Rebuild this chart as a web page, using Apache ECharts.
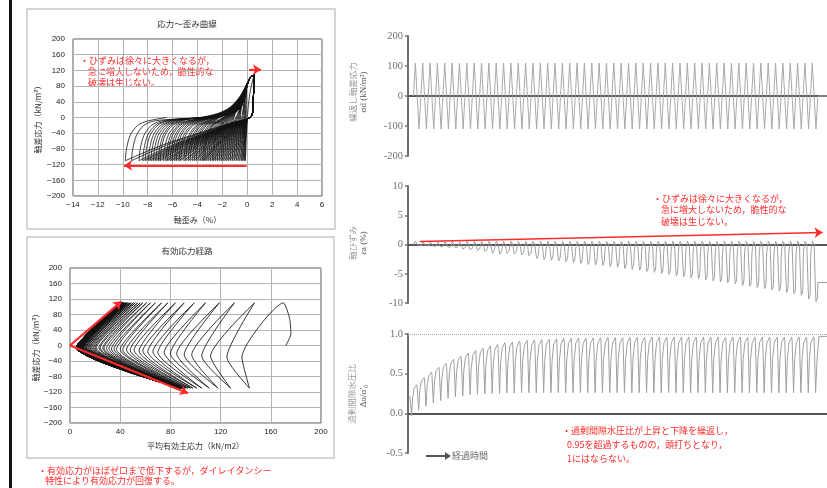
<!DOCTYPE html>
<html><head><meta charset="utf-8">
<script src="https://cdn.jsdelivr.net/npm/echarts@6/dist/echarts.min.js"></script>
<style>html,body{margin:0;padding:0;background:#fff;}#c{width:827px;height:488px;}</style>
</head><body><div id="c"></div>
<script>
// ===== data =====
// per-cycle minimum axial strain (%) in extension (軸ひずみ time history)
const strainMin = [-0.15,-0.25,-0.35,-0.45,-0.6,-0.75,-0.9,-1.05,-1.2,-1.35,
 -1.5,-1.65,-1.8,-1.95,-2.1,-2.25,-2.4,-2.55,-2.7,-2.8,
 -2.95,-3.1,-3.25,-3.4,-3.5,-3.6,-3.75,-3.9,-4.1,-4.25,
 -4.4,-4.6,-4.75,-4.95,-5.1,-5.35,-5.5,-5.7,-5.85,-6.05,
 -6.2,-6.4,-6.55,-6.75,-7.0,-7.15,-7.35,-7.55,-7.75,-7.95,
 -8.2,-8.4,-8.7,-9.3,-9.8];
const stressPeak = 110, stressTrough = -110;          // kN/m²
const initialStrain = [0, 0.2, 0.55], initialStress = [0, 60, 110];
// loop branches read from 応力～歪み曲線
const unloadTopStrain = [0.55, 0.5, 0.45, 0.3], unloadTopStress = [110, 60, 15, 2];
const unloadFanRatio = [0, 0.15, 0.4, 0.65, 0.85, 1], unloadFanStress = [-4, -15, -40, -65, -90, -110];
const reloadSteepOffset = [0, 0.1, 0.4, 1.0, 1.8], reloadSteepStress = [-110, -80, -45, -20, -9];
const envelopeStrain = [-8.5, -6, -4, -2.5, -1.5, -0.7, -0.2, 0.2, 0.55];
const envelopeStress = [-6, -4, 0, 10, 25, 50, 75, 100, 110];
const finalStrain = -6.5;
// 過剰間隙水圧比 per cycle
const poreStart = 0.22, poreFirstTrough = -0.03, poreFinal = 0.97, poreNotch = 0.03;
const porePeak = [0.36,0.45,0.52,0.58,0.63,0.68,0.72,0.76,0.79,0.82,
 0.85,0.87,0.89,0.9,0.91,0.92,0.925,0.93,0.935,0.94,
 0.945,0.945,0.95,0.95,0.95,0.955,0.955,0.955,0.955,0.955,
 0.96,0.96,0.96,0.96,0.96,0.96,0.96,0.96,0.96,0.96,
 0.96,0.96,0.96,0.96,0.96,0.96,0.96,0.96,0.96,0.96,
 0.96,0.96,0.96,0.96,0.965];
const poreTrough = [0.04,0.09,0.13,0.16,0.19,0.21,0.22,0.235,0.24,0.245,
 0.25,0.25,0.255,0.255,0.26,0.26,0.26,0.26,0.26,0.26,
 0.26,0.26,0.26,0.26,0.26,0.26,0.26,0.26,0.26,0.26,
 0.26,0.26,0.26,0.26,0.26,0.26,0.26,0.26,0.26,0.26,
 0.26,0.26,0.26,0.26,0.26,0.26,0.26,0.26,0.26,0.26,
 0.26,0.26,0.26,0.26,0.26];
const poreRisePhase = [0.2, 0.5], poreRiseFrac = [0.6, 0.9];
// 有効応力経路
const pathStartP = [172, 176, 175], pathStartQ = [0, 30, 70];
const pathTop = [170,147,131,119,108,99,91,84,78,73,
 68,64,61,58,56,54,52,50.5,49,48,
 47,46,45.5,45,44.5,44,43.5,43,43,42.5,
 42.5,42,42,42,41.5,41.5,41.5,41,41,41,
 41,41,40.5,40.5,40.5,40.5,40.5,40.5,40,40,
 40,40,40,40,40];
const pathBot = [143,128,118,111,105,101,98,96,94,92.5,
 91.5,90.5,90,89.5,89,88.5,88.5,88,88,88,
 88,88,88,88,88,88,88,88,88,88,
 88,88,88,88,88,88,88,88,88,88,
 88,88,88,88,88,88,88,88,88,88,
 88,88,88,88,88];
const vertexDown = [137,112,97,85,75,66,58,51,45,40,
 35,31,27,24,21,19,17,15.5,14,13,
 12,11,10.5,10,9.5,9,8.5,8,8,7.5,
 7.5,7,7,7,6.5,6.5,6.5,6,6,6,
 6,6,5.5,5.5,5.5,5.5,5.5,5.5,5,5,
 5,5,5,5,5];
const vertexUp = [125,105,91,80,70,62,55,48,42,37,
 33,29,26,23,20,18,16,14.5,13,12,
 11,10.5,10,9.5,9,8.5,8,8,7.5,7.5,
 7,7,7,6.5,6.5,6.5,6,6,6,6,
 6,5.5,5.5,5.5,5.5,5.5,5.5,5,5,5,
 5,5,5,5];
const vertexQ = [-30,-27,-24,-21,-18,-16,-14,-12,-11,-10,
 -9,-8,-7,-6,-5.5,-5,-5,-5,-5,-5,
 -5,-5,-5,-5,-5,-5,-5,-5,-5,-5,
 -5,-5,-5,-5,-5,-5,-5,-5,-5,-5,
 -5,-5,-5,-5,-5,-5,-5,-5,-5,-5,
 -5,-5,-5,-5,-5];
const pathEndP = 5;
// tick labels
const ssStrainTicks = [-14, 6, 2], ssStressTicks = [-200, 200, 40];
const pathPTicks = [0, 200, 40];

// ===== build series from the arrays =====
const N = strainMin.length;
const emMax = strainMin[N - 1];
const halfSpan = 2 * (stressPeak - stressTrough); // stress change per cycle
const loopPts = [], strainTime = [], stressTime = [];
function add(t, e, s) { loopPts.push([e, s]); strainTime.push([t, e]); stressTime.push([t, s]); }
for (let j = 0; j < initialStress.length; j++) add(1 - (stressPeak - initialStress[j]) / halfSpan, initialStrain[j], initialStress[j]);
for (let k = 0; k < N; k++) {
  const tp = k + 1, em = strainMin[k];
  for (let j = 1; j < unloadTopStress.length; j++) add(tp + (stressPeak - unloadTopStress[j]) / halfSpan, unloadTopStrain[j], unloadTopStress[j]);
  for (let j = 0; j < unloadFanStress.length; j++) add(tp + (stressPeak - unloadFanStress[j]) / halfSpan, unloadFanRatio[j] * em, unloadFanStress[j]);
  const sc = Math.min(1, -em / 5);
  let lastE = em;
  for (let j = 1; j < reloadSteepStress.length; j++) { lastE = em + reloadSteepOffset[j] * sc; add(tp + 0.5 + (reloadSteepStress[j] - stressTrough) / halfSpan, lastE, reloadSteepStress[j]); }
  if (k === N - 1) { add(tp + 0.5 + (0 - stressTrough) / halfSpan, finalStrain, 0); }
  else {
    const r = 0.25 + 0.75 * (em / emMax);
    for (let j = 0; j < envelopeStrain.length; j++) {
      const e = envelopeStrain[j] < 0 ? envelopeStrain[j] * r : envelopeStrain[j];
      if (e > lastE + 0.4 * sc) add(tp + 0.5 + (envelopeStress[j] - stressTrough) / halfSpan, e, envelopeStress[j]);
    }
  }
}
strainTime.push([57, finalStrain]); stressTime.push([57, 0]);

const poreTime = [[0.25, poreStart], [0.5, poreFirstTrough]];
let prevT = 0.5, prevV = poreFirstTrough;
for (let k = 0; k < N; k++) {
  const tPk = k + 1.2, d = porePeak[k] - prevV;
  for (let j = 0; j < poreRisePhase.length; j++) poreTime.push([prevT + poreRisePhase[j] * (tPk - prevT), prevV + poreRiseFrac[j] * d]);
  poreTime.push([tPk, porePeak[k]], [tPk + 0.05, porePeak[k] - poreNotch], [tPk + 0.1, porePeak[k] - 0.01], [tPk + 0.25, poreTrough[k]]);
  prevT = tPk + 0.25; prevV = poreTrough[k];
}
poreTime.push([prevT + 0.2, prevV + 0.6 * (poreFinal - prevV)], [prevT + 0.45, poreFinal], [57, poreFinal]);

const pathPts = [];
for (let j = 0; j < pathStartP.length; j++) pathPts.push([pathStartP[j], pathStartQ[j]]);
for (let k = 0; k < N; k++) {
  pathPts.push([pathTop[k], stressPeak], [vertexDown[k], vertexQ[k]], [pathBot[k], stressTrough]);
  if (k < vertexUp.length) pathPts.push([vertexUp[k], vertexQ[k]]);
}
pathPts.push([pathEndP, 0]);

// ===== chart =====
const RED = '#ff2a2a';
const JP = '"Noto Sans CJK JP", sans-serif';
const SANS = '"Liberation Sans", Arial, sans-serif';
const SERIF = '"Liberation Serif", "DejaVu Serif", serif';
const minus = v => String(v).replace('-', '\u2212');
function leftX(idx, r, name, gap) {
  return { type: 'value', gridIndex: idx, min: r[0], max: r[1], interval: r[2],
    name, nameLocation: 'middle', nameGap: gap, nameTextStyle: { fontFamily: JP, fontSize: 8, color: '#333' },
    axisLine: { show: false }, axisTick: { show: false },
    axisLabel: { fontFamily: SANS, fontSize: 8, color: '#222', margin: 5, formatter: minus },
    splitLine: { lineStyle: { color: '#b4b4b4', width: 1 } } };
}
function leftY(idx, name, gap) {
  return { type: 'value', gridIndex: idx, min: ssStressTicks[0], max: ssStressTicks[1], interval: ssStressTicks[2],
    name, nameLocation: 'middle', nameGap: gap, nameTextStyle: { fontFamily: JP, fontSize: 8, color: '#333' },
    axisLine: { show: false }, axisTick: { show: false },
    axisLabel: { fontFamily: SANS, fontSize: 8, color: '#222', margin: 8, formatter: minus },
    splitLine: { lineStyle: { color: '#b4b4b4', width: 1 } } };
}
function rightX(idx) {
  return { type: 'value', gridIndex: idx, min: 0, max: 57,
    axisLine: { show: true, onZero: true, lineStyle: { color: '#555', width: 2 } },
    axisTick: { show: false }, axisLabel: { show: false }, splitLine: { show: false } };
}
function rightY(idx, min, max, iv, fmt) {
  return { type: 'value', gridIndex: idx, min, max, interval: iv,
    axisLine: { show: true, lineStyle: { color: '#707070', width: 2 } },
    axisTick: { show: true, length: 3, lineStyle: { color: '#707070', width: 1.5 } },
    axisLabel: { fontFamily: SERIF, fontSize: 10.5, color: '#707070', margin: 5, formatter: fmt },
    splitLine: { show: false } };
}
function arrowLine(pairs, width) {
  return { silent: true, symbol: ['none', 'arrow'], symbolSize: 8, label: { show: false },
    lineStyle: { type: 'solid', color: RED, width }, emphasis: { disabled: true },
    data: pairs.map(p => [{ coord: p[0] }, { coord: p[1] }]) };
}
function txt(x, y, text, fill, size, family, align) {
  return { type: 'text', x, y, silent: true,
    style: { text, fill, fontSize: size, fontFamily: family, align: align || 'left', verticalAlign: 'middle' } };
}
function vtxt(x, y, text, fill, size, family) {
  return { type: 'text', x, y, rotation: Math.PI / 2, silent: true,
    style: { text, fill, fontSize: size, fontFamily: family, align: 'center', verticalAlign: 'middle' } };
}

const chart = echarts.init(document.getElementById('c'), null, { renderer: 'canvas' });
chart.setOption({
  animation: false,
  backgroundColor: '#fff',
  grid: [
    { left: 73, top: 39, width: 249, height: 157, show: true, borderColor: '#555', borderWidth: 1, backgroundColor: 'transparent' },
    { left: 70, top: 268, width: 251, height: 155, show: true, borderColor: '#555', borderWidth: 1, backgroundColor: 'transparent' },
    { left: 408, top: 36, width: 419, height: 120 },
    { left: 408, top: 186, width: 419, height: 117 },
    { left: 408, top: 334, width: 419, height: 119 }
  ],
  xAxis: [
    leftX(0, ssStrainTicks, '軸歪み（%）', 20),
    leftX(1, pathPTicks, '平均有効主応力（kN/m2）', 19),
    rightX(2), rightX(3), rightX(4)
  ],
  yAxis: [
    leftY(0, '軸差応力（kN/m²）', 31),
    leftY(1, '軸差応力（kN/m²）', 28),
    rightY(2, -200, 200, 100, v => String(v)),
    rightY(3, -10, 10, 5, v => String(v)),
    rightY(4, -0.5, 1.0, 0.5, v => v.toFixed(1))
  ],
  series: [
    { type: 'line', xAxisIndex: 0, yAxisIndex: 0, data: loopPts, showSymbol: false, smooth: 0.3,
      lineStyle: { color: '#111', width: 0.8 }, silent: true,
      markLine: arrowLine([[[0.15, 122], [1.1, 122]], [[-0.05, -122], [-9.9, -122]]], 2.2) },
    { type: 'line', xAxisIndex: 1, yAxisIndex: 1, data: pathPts, showSymbol: false, smooth: 0.2,
      lineStyle: { color: '#111', width: 0.85 }, silent: true,
      markLine: arrowLine([[[0, 0], [41, 114]], [[0, 0], [94, -123]]], 2.2) },
    { type: 'line', xAxisIndex: 2, yAxisIndex: 2, data: stressTime, showSymbol: false,
      lineStyle: { color: '#a8a8a8', width: 1 }, silent: true, z: 1 },
    { type: 'line', xAxisIndex: 3, yAxisIndex: 3, data: strainTime, showSymbol: false,
      lineStyle: { color: '#a0a0a0', width: 1 }, silent: true, z: 1,
      markLine: arrowLine([[[1.6, 0.5], [56.4, 2.05]]], 1.6) },
    { type: 'line', xAxisIndex: 4, yAxisIndex: 4, data: poreTime, showSymbol: false,
      lineStyle: { color: '#a0a0a0', width: 1 }, silent: true, z: 1,
      markLine: { silent: true, symbol: 'none', label: { show: false },
        lineStyle: { type: 'dotted', color: '#aaa', width: 1 }, data: [{ yAxis: 1 }] } }
  ],
  graphic: [
    { type: 'rect', shape: { x: 9, y: 0, width: 3, height: 488 }, style: { fill: '#111' }, silent: true },
    { type: 'rect', shape: { x: 27, y: 9, width: 308, height: 220 }, style: { fill: 'none', stroke: '#c8c8c8', lineWidth: 1.5 }, silent: true },
    { type: 'rect', shape: { x: 27, y: 237, width: 307, height: 221 }, style: { fill: 'none', stroke: '#c8c8c8', lineWidth: 1.5 }, silent: true },
    txt(187, 24, '応力～歪み曲線', '#333', 8.5, JP, 'center'),
    txt(187, 251, '有効応力経路', '#333', 8.5, JP, 'center'),
    txt(80, 61, '・ひずみは徐々に大きくなるが，', RED, 9, JP),
    txt(88, 72, '急に増大しないため，脆性的な', RED, 9, JP),
    txt(88, 83, '破壊は生じない。', RED, 9, JP),
    txt(38, 471, '・有効応力がほぼゼロまで低下するが，ダイレイタンシー', RED, 9, JP),
    txt(45, 481, '特性により有効応力が回復する。', RED, 9, JP),
    txt(653, 199, '・ひずみは徐々に大きくなるが，', RED, 9, JP),
    txt(661, 210, '急に増大しないため，脆性的な', RED, 9, JP),
    txt(661, 222, '破壊は生じない。', RED, 9, JP),
    txt(562, 431, '・過剰間隙水圧比が上昇と下降を繰返し，', RED, 9, JP),
    txt(567, 445, '0.95を超過するものの，頭打ちとなり，', RED, 9, JP),
    txt(567, 459, '1にはならない。', RED, 9, JP),
    vtxt(353, 92, '繰返し軸差応力', '#9a9a9a', 8.5, JP),
    vtxt(364, 92, 'σd (kN/m²)', '#555', 9, SERIF),
    vtxt(353, 243, '軸ひずみ', '#9a9a9a', 8.5, JP),
    vtxt(364, 243, 'εa (%)', '#555', 9, SERIF),
    vtxt(352, 394, '過剰間隙水圧比', '#9a9a9a', 8.5, JP),
    vtxt(364, 396, "Δu/σ'₀", '#555', 9, SERIF),
    { type: 'line', shape: { x1: 426, y1: 456, x2: 446, y2: 456 }, style: { stroke: '#555', lineWidth: 2 }, silent: true },
    { type: 'polygon', shape: { points: [[445, 452], [451, 456], [445, 460]] }, style: { fill: '#555' }, silent: true },
    txt(452, 456, '経過時間', '#666', 9, JP)
  ]
});
</script></body></html>
